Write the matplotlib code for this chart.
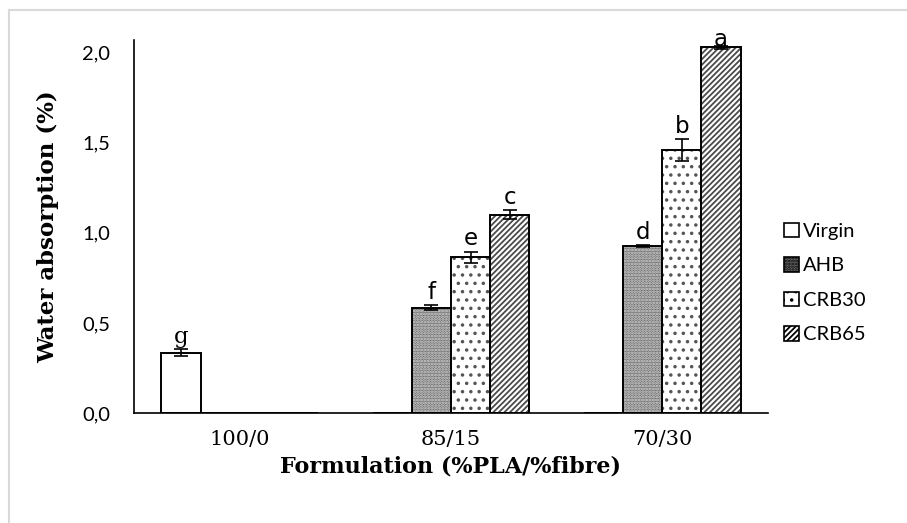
import matplotlib
matplotlib.use("Agg")
import matplotlib.pyplot as plt
from matplotlib.patches import Patch
from matplotlib.lines import Line2D
import numpy as np

categories = ["100/0", "85/15", "70/30"]
series = ["Virgin", "AHB", "CRB30", "CRB65"]
values = {
    "Virgin": [0.335, 0.0, 0.0],
    "AHB":    [0.0, 0.585, 0.925],
    "CRB30":  [0.0, 0.865, 1.46],
    "CRB65":  [0.0, 1.10, 2.03],
}
errors = {
    "Virgin": [0.018, 0.0, 0.0],
    "AHB":    [0.0, 0.012, 0.006],
    "CRB30":  [0.0, 0.03, 0.06],
    "CRB65":  [0.0, 0.025, 0.008],
}
letters = {
    "Virgin": ["g", None, None],
    "AHB":    [None, "f", "d"],
    "CRB30":  [None, "e", "b"],
    "CRB65":  [None, "c", "a"],
}
yticks = [0.0, 0.5, 1.0, 1.5, 2.0]
ytick_labels = ["0,0", "0,5", "1,0", "1,5", "2,0"]

styles = {
    "Virgin": dict(fc="white", hc="white", hatch=None),
    "AHB":    dict(fc="#6e6e6e", hc="#d8d8d8", hatch="......"),
    "CRB30":  dict(fc="white", hc="#555555", hatch=".."),
    "CRB65":  dict(fc="white", hc="#4a4a4a", hatch="//////"),
}

fig = plt.figure(figsize=(9.07, 5.23), dpi=100)
ax = fig.add_axes([134/907, 1-413/523, (768-134)/907, (413-40)/523])

x = np.arange(len(categories))
width = 0.185
offsets = (np.arange(len(series)) - 1.5) * width

plt.rcParams['hatch.linewidth'] = 1.3
for i, s in enumerate(series):
    st = styles[s]
    pos = x + offsets[i]
    vals = values[s]
    ax.bar(pos, vals, width, color=st["fc"], edgecolor=st["hc"], hatch=st["hatch"], linewidth=0, zorder=2)
    ax.bar(pos, vals, width, fill=False, edgecolor="black", linewidth=1.4, zorder=3)
    for p, v, e, lab in zip(pos, vals, errors[s], letters[s]):
        if lab is None:
            continue
        ax.errorbar(p, v, yerr=e, fmt="none", ecolor="black", elinewidth=1.2, capsize=5, capthick=1.2, zorder=4)
        fam = "DejaVu Serif" if lab == "g" else "DejaVu Sans"
        ax.annotate(lab, (p, v + e), xytext=(0, 1 if lab != "a" else -4), textcoords="offset points",
                    ha="center", va="bottom", fontsize=16.5, family=fam, zorder=5)

ax.set_xlim(-0.5, len(categories) - 0.5)
ax.set_ylim(0, 2.07)
ax.set_yticks(yticks)
ax.set_yticklabels(ytick_labels, family="Lato", fontsize=14.5)
ax.set_xticks(x)
ax.set_xticklabels(categories, family="DejaVu Serif", fontsize=15)
ax.tick_params(axis="both", length=0)
ax.tick_params(axis="y", pad=17)
ax.tick_params(axis="x", pad=12)
for sp in ["top", "right"]:
    ax.spines[sp].set_visible(False)
ax.spines["left"].set_linewidth(1.2)
ax.spines["bottom"].set_linewidth(1.2)

ax.set_xlabel("Formulation (%PLA/%fibre)", family="DejaVu Serif", fontweight="bold", fontsize=16, labelpad=5)
ax.set_ylabel("Water absorption (%)", family="DejaVu Serif", fontweight="bold", fontsize=16.5, labelpad=17)

handles = []
for s in series:
    st = styles[s]
    handles.append(Patch(facecolor=st["fc"], edgecolor=st["hc"] if st["hatch"] else "black",
                         hatch=st["hatch"], linewidth=0 if st["hatch"] else 1.2))
leg = fig.legend(handles, series, loc="center left", bbox_to_anchor=(774/907, 1-283/523),
                 frameon=False, prop=dict(family="Lato", size=14.5), handlelength=0.75, handleheight=0.75,
                 handletextpad=0.2, labelspacing=0.85, borderpad=0)
for h in leg.legend_handles:
    h.set_edgecolor("black")
    h.set_linewidth(1.2)

# light border (top and left edges visible)
fig.add_artist(Line2D([9/907, 1], [1-10/523, 1-10/523], color="#d9d9d9", lw=1.5, transform=fig.transFigure))
fig.add_artist(Line2D([9/907, 9/907], [0, 1-10/523], color="#d9d9d9", lw=1.5, transform=fig.transFigure))

fig.savefig("out.png", dpi=100)
